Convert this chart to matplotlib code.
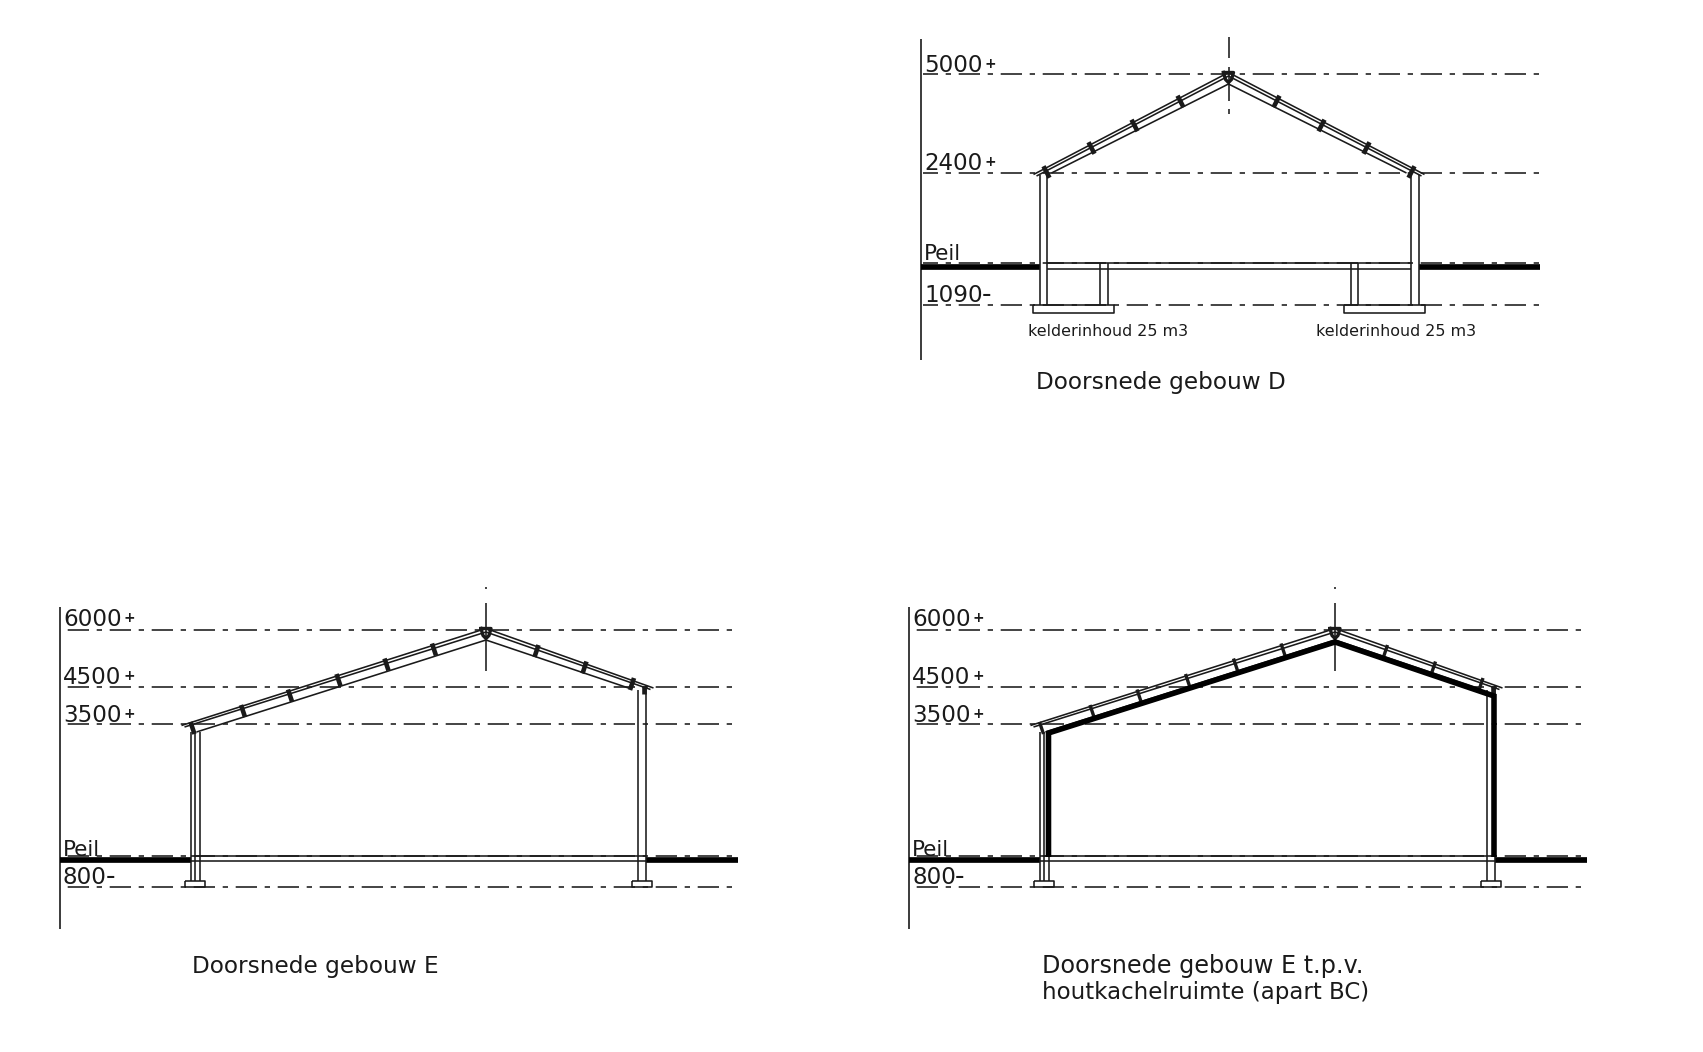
"""
plot.py
Redraws the three building sections (gebouw D, gebouw E, gebouw E t.p.v. houtkachelruimte).
Coordinates are read off the reference, in picture pixels.
"""

import matplotlib
matplotlib.use('Agg')
import matplotlib.pyplot as plt

plt.rcParams['lines.scale_dashes'] = False
plt.rcParams['font.family'] = ['DejaVu Sans']

# =========================================================
# DATA
# =========================================================

# Gebouw D
D_AXIS_X = 921
D_AXIS_Y = (39, 360)
D_LINE_END = 1538.5
D_LEVEL_LABELS = ['5000', '2400', '1090']
D_LEVEL_SIGNS = ['+', '+', '-']
D_LEVEL_Y = [74, 173, 304.5]
D_PEIL_Y = 262.5
D_GROUND_Y = 266.5
D_GROUND_X = [(921, 1039.5), (1418.5, 1540)]
D_FLOOR_Y = [263, 269]
D_WALL_X = [1039.5, 1046.5, 1410.5, 1418.5]
D_WALL_TOP = 175
D_CELLAR_X = [1099.5, 1107.5, 1350.5, 1357.5]
D_FOOTINGS = [(1033, 1113.5), (1343.5, 1424.5)]
D_FOOTING_Y = (304.5, 312.5)
D_ROOF_X = [1033.5, 1228.5, 1424.5]
D_ROOF_Y = [174.5, 72.5, 174.5]
D_CEIL_X = [1051.5, 1228.5, 1406.5]
D_CEIL_Y = [173, 84, 173]
D_TICK_LEFT_X = [1046.5, 1091.5, 1134.5, 1180.5]
D_TICK_LEFT_Y = [172, 148, 125.5, 101.5]
D_TICK_RIGHT_X = [1276.5, 1321.5, 1366.5, 1411.5]
D_TICK_RIGHT_Y = [101.5, 125.5, 148, 172]
D_CENTRE_X = 1228.5
D_CENTRE_SPANS = [(37, 58), (67, 101), (109, 114)]
D_CAPTIONS = ['kelderinhoud 25 m3', 'kelderinhoud 25 m3']
D_CAPTION_X = [1028, 1316]

# Gebouw E, the second drawing is the same section shifted to the right
E_SHIFT = [0, 849]
E_AXIS_X = 60
E_AXIS_Y = (607, 929)
E_LINE_END = 732
E_LEVEL_LABELS = ['6000', '4500', '3500', '800']
E_LEVEL_SIGNS = ['+', '+', '+', '-']
E_LEVEL_Y = [630, 686.5, 724, 887]
E_LABEL_LIFT = [2, 0, 0, 0]
E_PEIL_Y = 855.5
E_GROUND_Y = 860
E_GROUND_X = [(60, 190.5), (645.5, 738)]
E_FLOOR_Y = [856, 861]
E_WALL_LEFT_X = [190.5, 195, 199.5]
E_WALL_RIGHT_X = [637.5, 645.5]
E_ROOF_X = [181.5, 486, 653.5]
E_ROOF_Y = [725.5, 628.5, 688]
E_CEIL_X = [196.5, 486, 628.5]
E_CEIL_Y = [732, 640, 688]
E_TICK_LEFT_X = [192.5, 243, 290, 338.5, 386.5, 434]
E_TICK_LEFT_Y = [728, 711, 695.5, 680, 664.5, 649.5]
E_TICK_RIGHT_X = [536.5, 584.5, 632]
E_TICK_RIGHT_Y = [651, 667.5, 684]
E_FOOTINGS = [(184.5, 204.5), (632, 651.5)]
E_FOOTING_Y = (881, 887)
E_CENTRE_X = 486
E_CENTRE_SPANS = [(587, 589), (603, 671)]

# Thick insulation line in the houtkachelruimte section
INS_X = [199.5, 199.5, 486, 645, 645]
INS_Y = [857, 733, 642, 696, 857]

TITLES = [
    ('Doorsnede gebouw D', 1036, 382, 16.7),
    ('Doorsnede gebouw E', 192.5, 966, 16.7),
    ('Doorsnede gebouw E t.p.v.', 1041.5, 966, 17.2),
    ('houtkachelruimte (apart BC)', 1041.5, 992, 16.5),
]

INK = '#1a1a1a'
THIN = 1.15
TICK_W = 3.3
THICK = 4.1
DASHDOT = (0, (5.3 * .72, 7.7 * .72, 21.3 * .72, 7.7 * .72))

# =========================================================
# HELPERS
# =========================================================

def seg(ax, xs, ys, lw=THIN, color=INK, **kw):
    ax.plot(xs, ys, color=color, lw=lw, solid_capstyle='butt',
            dash_capstyle='butt', **kw)

def level_line(ax, x0, x1, y):
    # drawn from the right end so the pattern stops on the short dash
    seg(ax, [x1, x0], [y, y], lw=1.15, linestyle=DASHDOT)

def level_label(ax, x, y, txt, sign):
    ax.text(x, y - 2.5, txt, fontsize=16.6, color=INK, va='baseline', ha='left')
    if sign == '+':
        ax.text(x + len(txt) * 14.7 + 2, y - 6.5, sign, fontsize=10, color=INK,
                va='baseline', ha='left', fontweight='bold')
    else:
        ax.text(x + len(txt) * 14.7 - 1, y - 2.5, '-', fontsize=19, color=INK,
                va='baseline', ha='left')

def roof(ax, xs, ys, cxs, cys, dx=0):
    xs = [x + dx for x in xs]
    seg(ax, xs, ys, lw=THIN)
    seg(ax, [xs[0] + 3, xs[1], xs[2] - 3], [ys[0] + 1.5, ys[1] + 3.5, ys[2] + 1.5], lw=THIN)
    seg(ax, [x + dx for x in cxs], cys, lw=THIN)

def ticks(ax, xs, ys, hx, hy, dx=0, lw=TICK_W):
    for x, y in zip(xs, ys):
        seg(ax, [x + dx - hx, x + dx + hx], [y - hy, y + hy], lw=lw)

def apex(ax, x, y):
    ax.plot([x - 5, x + 5, x + 3, x, x - 3, x - 5],
            [y, y, y + 7, y + 10, y + 7, y],
            color=INK, lw=2.4, solid_joinstyle='round')

# =========================================================
# FIGURE
# =========================================================

fig = plt.figure(figsize=(17.03, 10.52), dpi=100)
ax = fig.add_axes([0, 0, 1, 1])
ax.set_xlim(0, 1703)
ax.set_ylim(1052, 0)
ax.axis('off')

# --- gebouw D ---
seg(ax, [D_AXIS_X, D_AXIS_X], D_AXIS_Y, lw=1.2)
for lab, sign, y in zip(D_LEVEL_LABELS, D_LEVEL_SIGNS, D_LEVEL_Y):
    level_line(ax, D_AXIS_X + 2, D_LINE_END, y)
    level_label(ax, D_AXIS_X + 3, y, lab, sign)
level_line(ax, D_AXIS_X + 2, D_LINE_END, D_PEIL_Y)
ax.text(D_AXIS_X + 3, D_PEIL_Y - 3, 'Peil', fontsize=15.5, color=INK, va='baseline')
for x0, x1 in D_GROUND_X:
    seg(ax, [x0, x1], [D_GROUND_Y, D_GROUND_Y], lw=THICK, color='black')
for y in D_FLOOR_Y:
    seg(ax, [D_WALL_X[1], D_WALL_X[2]], [y, y])
for x in D_WALL_X:
    seg(ax, [x, x], [D_WALL_TOP, D_FOOTING_Y[0]])
for x in D_CELLAR_X:
    seg(ax, [x, x], [D_FLOOR_Y[0], D_FOOTING_Y[0]])
for x0, x1 in D_FOOTINGS:
    seg(ax, [x0, x1, x1, x0, x0],
        [D_FOOTING_Y[0], D_FOOTING_Y[0], D_FOOTING_Y[1], D_FOOTING_Y[1], D_FOOTING_Y[0]])
roof(ax, D_ROOF_X, D_ROOF_Y, D_CEIL_X, D_CEIL_Y)
ticks(ax, D_TICK_LEFT_X, D_TICK_LEFT_Y, 3, 5.8)
ticks(ax, D_TICK_RIGHT_X, D_TICK_RIGHT_Y, -3, 5.8)
apex(ax, D_ROOF_X[1], D_ROOF_Y[1])
for y0, y1 in D_CENTRE_SPANS:
    seg(ax, [D_CENTRE_X, D_CENTRE_X], [y0, y1])
for cap, x in zip(D_CAPTIONS, D_CAPTION_X):
    ax.text(x, 332, cap, fontsize=11.4, color=INK, va='center', ha='left')

# --- gebouw E, twice ---
for i, dx in enumerate(E_SHIFT):
    seg(ax, [E_AXIS_X + dx, E_AXIS_X + dx], E_AXIS_Y, lw=1.2)
    for lab, sign, y, lift in zip(E_LEVEL_LABELS, E_LEVEL_SIGNS, E_LEVEL_Y, E_LABEL_LIFT):
        level_line(ax, E_AXIS_X + dx + 2, E_LINE_END + dx, y)
        level_label(ax, E_AXIS_X + dx + 3, y - lift, lab, sign)
    level_line(ax, E_AXIS_X + dx + 2, E_LINE_END + dx, E_PEIL_Y)
    ax.text(E_AXIS_X + dx + 3, E_PEIL_Y, 'Peil', fontsize=15.5, color=INK, va='baseline')
    for x0, x1 in E_GROUND_X:
        seg(ax, [x0 + dx, x1 + dx], [E_GROUND_Y, E_GROUND_Y], lw=THICK, color='black')
    for y in E_FLOOR_Y:
        seg(ax, [E_WALL_LEFT_X[0] + dx, E_WALL_RIGHT_X[1] + dx], [y, y])
    for x in E_WALL_LEFT_X:
        seg(ax, [x + dx, x + dx], [732, E_FOOTING_Y[0]])
    seg(ax, [E_WALL_RIGHT_X[0] + dx] * 2, [690, E_FOOTING_Y[0]])
    seg(ax, [E_WALL_RIGHT_X[1] + dx] * 2, [686, E_FOOTING_Y[0]])
    for x0, x1 in E_FOOTINGS:
        seg(ax, [x0 + dx, x1 + dx, x1 + dx, x0 + dx, x0 + dx],
            [E_FOOTING_Y[0], E_FOOTING_Y[0], E_FOOTING_Y[1], E_FOOTING_Y[1], E_FOOTING_Y[0]])
    roof(ax, E_ROOF_X, E_ROOF_Y, E_CEIL_X, E_CEIL_Y, dx)
    tick_w = TICK_W if i == 0 else 2.4
    ticks(ax, E_TICK_LEFT_X, E_TICK_LEFT_Y, 2, 6, dx, tick_w)
    ticks(ax, E_TICK_RIGHT_X, E_TICK_RIGHT_Y, -2, 6, dx, tick_w)
    seg(ax, [E_WALL_RIGHT_X[1] - 1.5 + dx] * 2, [686, 694], lw=TICK_W)
    apex(ax, E_ROOF_X[1] + dx, E_ROOF_Y[1])
    for y0, y1 in E_CENTRE_SPANS:
        seg(ax, [E_CENTRE_X + dx, E_CENTRE_X + dx], [y0, y1])

ax.plot([x + E_SHIFT[1] for x in INS_X], INS_Y, color='black', lw=4.0,
        solid_joinstyle='miter', solid_capstyle='butt')

# --- titles ---
for txt, x, y, size in TITLES:
    ax.text(x, y, txt, fontsize=size, color=INK, va='center', ha='left')

fig.savefig('out.png', dpi=100, facecolor='white')
plt.close()
